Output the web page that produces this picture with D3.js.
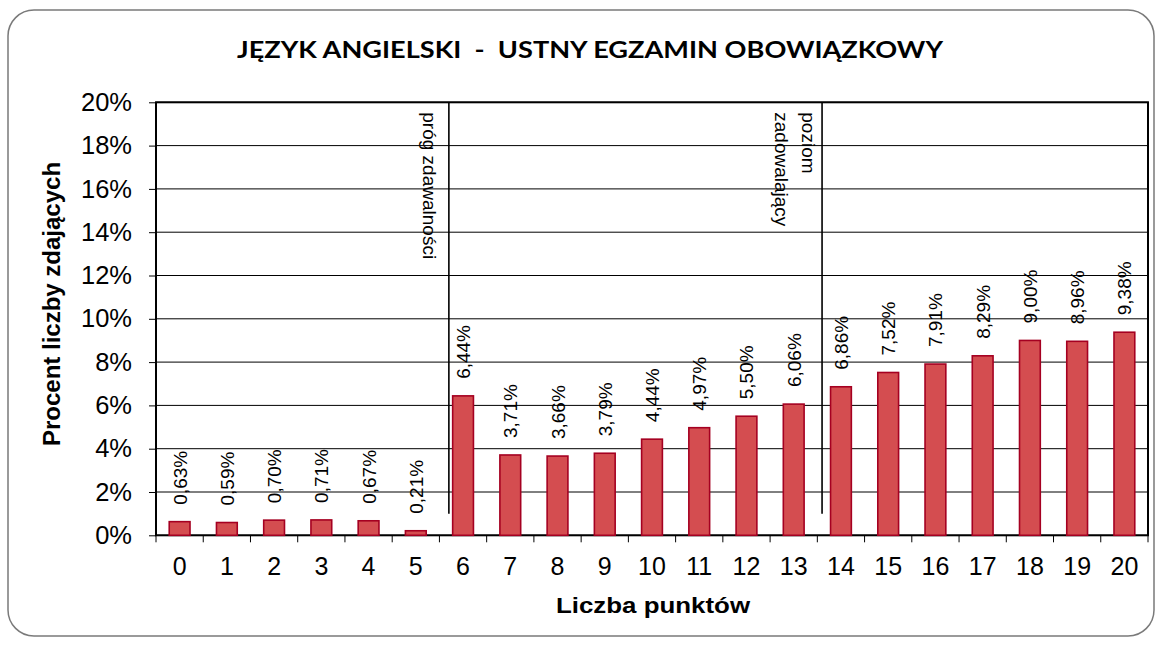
<!DOCTYPE html>
<html>
<head>
<meta charset="utf-8">
<script src="https://cdn.jsdelivr.net/npm/d3@7"></script>
<style>
  html, body { margin: 0; padding: 0; background: #fff; }
  svg { display: block; }
  text { font-family: "Liberation Sans", Arial, sans-serif; fill: #000; }
</style>
</head>
<body>
<svg id="chart" width="1162" height="645"></svg>
<script>
// ---- data ----
const categories = ["0","1","2","3","4","5","6","7","8","9","10","11","12","13","14","15","16","17","18","19","20"];
const percentValues = [0.63, 0.59, 0.70, 0.71, 0.67, 0.21, 6.44, 3.71, 3.66, 3.79, 4.44, 4.97, 5.50, 6.06, 6.86, 7.52, 7.91, 8.29, 9.00, 8.96, 9.38];
const yTicks = [0, 2, 4, 6, 8, 10, 12, 14, 16, 18, 20];
const thresholdPositions = [6.2, 14.1];           // in category units from the left edge
const thresholdRange = [1, 20];                     // vertical extent, percent
const thresholdLabels = [["próg zdawalności"], ["poziom", "zadowalający"]];
const titleText = "JĘZYK ANGIELSKI  -  USTNY EGZAMIN OBOWIĄZKOWY";
const xTitle = "Liczba punktów";
const yTitle = "Procent liczby zdających";

// ---- layout ----
const svg = d3.select("#chart");
const plot = { left: 156, right: 1148, top: 102.3, bottom: 535.3 };

svg.append("rect")
  .attr("x", 8).attr("y", 10).attr("width", 1146).attr("height", 626)
  .attr("rx", 26).attr("ry", 26)
  .attr("fill", "#fff").attr("stroke", "#7a7a7a").attr("stroke-width", 1.5);

const x = d3.scaleBand().domain(categories).range([plot.left, plot.right]).paddingInner(0).paddingOuter(0);
const xLin = d3.scaleLinear().domain([0, categories.length]).range([plot.left, plot.right]);
const y = d3.scaleLinear().domain([0, 20]).range([plot.bottom, plot.top]);
const fmt = v => v.toFixed(2).replace(".", ",") + "%";

// gridlines
svg.append("g")
  .selectAll("line").data(yTicks).join("line")
  .attr("x1", plot.left).attr("x2", plot.right)
  .attr("y1", d => y(d)).attr("y2", d => y(d))
  .attr("stroke", "#000").attr("stroke-width", 1);

// y axis
const yAxis = svg.append("g").attr("transform", `translate(${plot.left},0)`)
  .call(d3.axisLeft(y).tickValues(yTicks).tickFormat(d => d + "%").tickSize(7).tickPadding(17));
yAxis.select(".domain").remove();
yAxis.selectAll(".tick line").attr("stroke", "#000");
yAxis.selectAll(".tick text").attr("font-size", 25.5).attr("font-family", "Liberation Sans, Arial").attr("fill", "#000");

// x axis
const xAxis = svg.append("g").attr("transform", `translate(0,${plot.bottom})`)
  .call(d3.axisBottom(x).tickSize(0).tickPadding(22));
xAxis.select(".domain").remove();
xAxis.selectAll(".tick text").attr("font-size", 25).attr("font-family", "Liberation Sans, Arial").attr("fill", "#000");
// tick marks at band boundaries
svg.append("g").selectAll("line").data(d3.range(categories.length + 1)).join("line")
  .attr("x1", d => xLin(d)).attr("x2", d => xLin(d))
  .attr("y1", plot.bottom).attr("y2", plot.bottom + 7)
  .attr("stroke", "#000").attr("stroke-width", 1);

// plot frame
svg.append("rect")
  .attr("x", plot.left).attr("y", plot.top)
  .attr("width", plot.right - plot.left).attr("height", plot.bottom - plot.top)
  .attr("fill", "none").attr("stroke", "#000").attr("stroke-width", 2);

// bars
const bw = x.bandwidth() * 0.44;
svg.append("g").selectAll("rect").data(percentValues).join("rect")
  .attr("x", (d, i) => x(categories[i]) + (x.bandwidth() - bw) / 2)
  .attr("width", bw)
  .attr("y", d => y(d))
  .attr("height", d => y(0) - y(d))
  .attr("fill", "#d44d50").attr("stroke", "#a50021").attr("stroke-width", 1.6);

// value labels
svg.append("g").selectAll("text").data(percentValues).join("text")
  .attr("transform", (d, i) => `translate(${x(categories[i]) + x.bandwidth() / 2 + 7},${y(d) - 17}) rotate(-90)`)
  .attr("text-anchor", "start")
  .attr("font-size", 19)
  .text(d => fmt(d));

// threshold lines
svg.append("g").selectAll("line").data(thresholdPositions).join("line")
  .attr("x1", d => xLin(d)).attr("x2", d => xLin(d))
  .attr("y1", y(thresholdRange[0])).attr("y2", y(thresholdRange[1]))
  .attr("stroke", "#000").attr("stroke-width", 1.6);

// threshold labels (rotated, reading downwards), to the left of the lines
const labelOffsets = [[25.5], [20, 47]];
thresholdLabels.forEach((lines, k) => {
  const lx = xLin(thresholdPositions[k]);
  lines.forEach((t, j) => {
    svg.append("text")
      .attr("transform", `translate(${lx - labelOffsets[k][j]},${y(20) + 10}) rotate(90)`)
      .attr("text-anchor", "start")
      .attr("font-size", 19)
      .text(t);
  });
});

// title
svg.append("text")
  .attr("x", 590).attr("y", 58)
  .attr("text-anchor", "middle")
  .attr("font-weight", "bold").attr("font-size", 22)
  .attr("textLength", 706).attr("lengthAdjust", "spacingAndGlyphs")
  .style("font-family", "Lato, 'Open Sans', sans-serif")
  .style("white-space", "pre")
  .text(titleText);

// axis titles
svg.append("text")
  .attr("x", 653).attr("y", 613)
  .attr("text-anchor", "middle")
  .attr("font-weight", "bold").attr("font-size", 22)
  .attr("textLength", 194).attr("lengthAdjust", "spacingAndGlyphs")
  .text(xTitle);

svg.append("text")
  .attr("transform", `translate(60,304) rotate(-90)`)
  .attr("text-anchor", "middle")
  .attr("font-weight", "bold").attr("font-size", 24)
  .text(yTitle);
</script>
</body>
</html>
